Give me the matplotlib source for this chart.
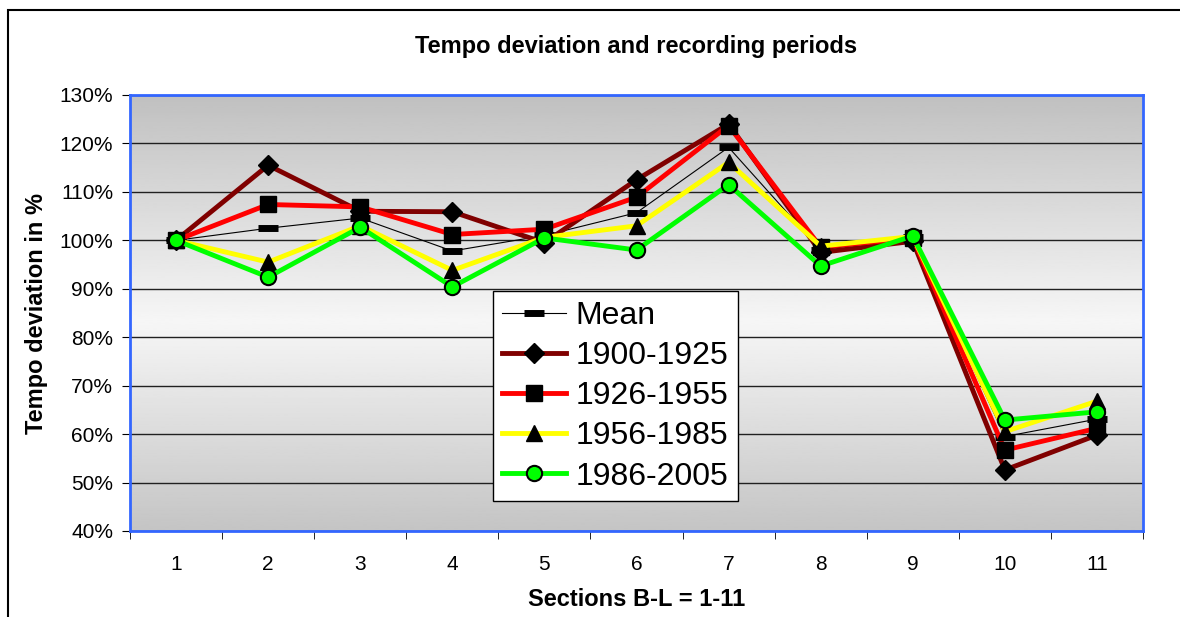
import numpy as np
import matplotlib.pyplot as plt
from matplotlib.patches import Rectangle
from matplotlib.ticker import FuncFormatter, FixedLocator

plt.rcParams['font.family'] = ['Liberation Sans', 'DejaVu Sans']

# dati (percentuali)
sezioni = list(range(1, 12))
media = [100, 102.5, 104.6, 97.8, 101.0, 105.7, 119.2, 98.0, 100.6, 59.5, 63.1]
p1900 = [100, 115.5, 106.0, 105.9, 99.5, 112.5, 124.0, 97.5, 99.8, 52.6, 59.8]
p1926 = [100, 107.4, 106.9, 101.2, 102.3, 108.9, 123.7, 98.6, 100.5, 56.7, 61.2]
p1956 = [100, 95.5, 103.0, 93.8, 100.6, 103.0, 116.1, 98.8, 100.8, 60.5, 66.8]
p1986 = [100, 92.4, 102.7, 90.4, 100.5, 98.0, 111.5, 94.7, 100.9, 62.9, 64.6]

fig = plt.figure(figsize=(11.8, 6.17), dpi=100)
ax = fig.add_axes([130/1180, 86/617, 1013/1180, 436/617])

# sfondo sfumato dell'area del grafico
t = np.linspace(0, 1, 300)
grig = np.interp(t, [0, 0.52, 1], [0.753, 0.965, 0.77])
ax.imshow(grig[:, None], cmap='gray', vmin=0, vmax=1, aspect='auto',
          extent=[0, 1, 0, 1], transform=ax.transAxes, zorder=0)

ax.set_xlim(0.5, 11.5)
ax.set_ylim(40, 130)
ax.yaxis.set_major_locator(FixedLocator(np.arange(40, 131, 10)))
ax.yaxis.set_major_formatter(FuncFormatter(lambda v, p: f"{v:.0f}%"))
ax.grid(axis='y', color='#202020', lw=1, zorder=1)

ax.plot(sezioni, media, color='black', lw=0.8, marker='_', ms=15, mew=5,
        label='Mean', zorder=3)
ax.plot(sezioni, p1900, color='#800000', lw=3.5, marker='D', ms=10,
        mfc='black', mec='black', label='1900-1925', zorder=4)
ax.plot(sezioni, p1926, color='#ff0000', lw=3.5, marker='s', ms=12,
        mfc='black', mec='black', label='1926-1955', zorder=5)
ax.plot(sezioni, p1956, color='#ffff00', lw=3.5, marker='^', ms=12,
        mfc='black', mec='black', label='1956-1985', zorder=6)
ax.plot(sezioni, p1986, color='#00ff00', lw=3.5, marker='o', ms=11,
        mfc='#00ff00', mec='black', mew=1.5, label='1986-2005', zorder=7)

# asse x a categorie: tacche tra le categorie
ax.set_xticks(sezioni)
ax.set_xticks(np.arange(0.5, 12, 1), minor=True)
ax.tick_params(axis='x', which='major', length=0, pad=17, labelsize=15)
ax.tick_params(axis='x', which='minor', length=6, direction='out')
ax.tick_params(axis='y', length=6, direction='out', pad=6, labelsize=15)

for s in ax.spines.values():
    s.set_color('#3366ff')
    s.set_linewidth(2)
    s.set_zorder(8)

ax.set_title('Tempo deviation and recording periods', fontsize=17,
             fontweight='bold', pad=30)
ax.set_ylabel('Tempo deviation in %', fontsize=17, fontweight='bold', labelpad=8)
ax.set_xlabel('Sections B-L = 1-11', fontsize=17, fontweight='bold', labelpad=10)

leg = ax.legend(loc='upper left', bbox_to_anchor=(0.358, 0.55), borderaxespad=0,
                fontsize=23, fancybox=False, framealpha=1, edgecolor='black',
                handlelength=2.0, labelspacing=0.32, handletextpad=0.3,
                borderpad=0.3)
leg.get_frame().set_linewidth(1)
leg.set_zorder(10)

# cornice esterna
fig.patches.append(Rectangle((8/1180, -0.1), 1.2, 607/617 + 0.1,
                             transform=fig.transFigure, fill=False,
                             lw=1.5, edgecolor='black'))

fig.savefig('out.png', dpi=100)
